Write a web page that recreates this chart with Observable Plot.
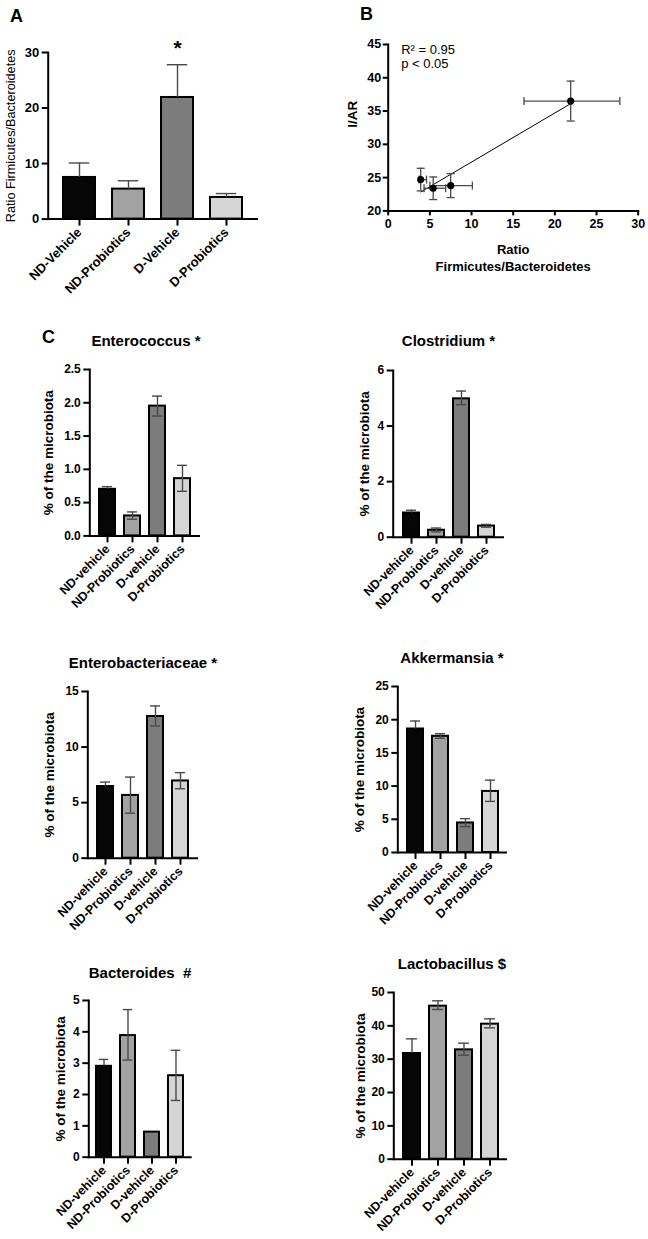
<!DOCTYPE html>
<html><head><meta charset="utf-8">
<script src="https://cdn.jsdelivr.net/npm/d3@7"></script>
<script src="https://cdn.jsdelivr.net/npm/@observablehq/plot@0.6"></script>
<style>
body{margin:0;background:#fff;}
#fig{position:relative;width:648px;height:1239px;overflow:hidden;background:#fff;font-family:"Liberation Sans",Arial,Helvetica,sans-serif;color:#000;}
.letter{position:absolute;font-weight:bold;font-size:18px;line-height:1;}
.title{position:absolute;width:300px;text-align:center;font-weight:bold;font-size:15px;line-height:1;white-space:pre;}
svg{overflow:visible;}
</style></head><body><div id="fig"></div>
<script>
// ---------- Data ----------
// Panel A: ratio Firmicutes/Bacteroidetes
const groupsA = ["ND-Vehicle", "ND-Probiotics", "D-Vehicle", "D-Probiotics"];
const ratioMean = [7.5, 5.4, 21.9, 3.9];
const ratioUpper = [10.1, 6.9, 27.8, 4.6];
const ratioLower = [5.0, 4.3, 16.3, 3.7];
const ratioTicks = [0, 10, 20, 30];
const starGroups = ["D-Vehicle"];
const starUpper = [27.8];

// Panel B: I/AR vs ratio
const iarMean = [23.8, 23.4, 36.5, 24.7];
const iarLower = [22.0, 21.7, 33.5, 23.0];
const iarUpper = [25.6, 25.1, 39.5, 26.4];
const iarTicks = [20, 25, 30, 35, 40, 45];
const ratioXTicks = [0, 5, 10, 15, 20, 25, 30];
const statsText = ["R\u00B2 = 0.95\np < 0.05"];

// Panel C
const groupsC = ["ND-vehicle", "ND-Probiotics", "D-vehicle", "D-Probiotics"];
const enteroMean = [0.70, 0.30, 1.95, 0.86];
const enteroLow = [0.70, 0.25, 1.80, 0.67];
const enteroHigh = [0.74, 0.36, 2.10, 1.06];
const enteroTicks = [0, 0.5, 1.0, 1.5, 2.0, 2.5];

const clostMean = [0.87, 0.25, 4.98, 0.40];
const clostLow = [0.87, 0.19, 4.77, 0.36];
const clostHigh = [0.97, 0.33, 5.26, 0.46];
const clostTicks = [0, 2, 4, 6];

const enterobMean = [6.45, 5.65, 12.75, 6.95];
const enterobLow = [6.45, 4.05, 11.9, 6.25];
const enterobHigh = [6.85, 7.3, 13.7, 7.7];
const enterobTicks = [0, 5, 10, 15];

const akkMean = [18.6, 17.5, 4.45, 9.2];
const akkLow = [18.6, 17.2, 3.9, 7.7];
const akkHigh = [19.8, 17.9, 5.1, 10.9];
const akkTicks = [0, 5, 10, 15, 20, 25];

const bactMean = [2.9, 3.88, 0.8, 2.6];
const bactLow = [2.9, 3.1, 0.8, 1.81];
const bactHigh = [3.12, 4.71, 0.8, 3.41];
const bactTicks = [0, 1, 2, 3, 4, 5];

const lactoMean = [31.7, 45.9, 32.8, 40.5];
const lactoLow = [31.7, 44.9, 31.2, 39.4];
const lactoHigh = [36.1, 47.5, 34.8, 42.1];
const lactoTicks = [0, 10, 20, 30, 40, 50];

const titlesC = ["Enterococcus *", "Clostridium *", "Enterobacteriaceae *", "Akkermansia *", "Bacteroides  #", "Lactobacillus $"];
const yLabelC = "% of the microbiota";
const yLabelA = "Ratio Firmicutes/Bacteroidetes";
const xLabelB = "Ratio\nFirmicutes/Bacteroidetes";
const yLabelB = "I/AR";

// ---------- Style ----------
const FONT = '"Liberation Sans", Arial, Helvetica, sans-serif';
const fills = ["#060606", "#a2a2a2", "#7c7c7c", "#d5d5d5"];
const ERR = "#4a4a4a";
const intFmt = d3.format("d");

const fig = document.getElementById("fig");
function place(node, left, top) {
  node.style.position = "absolute";
  node.style.left = left + "px";
  node.style.top = top + "px";
  fig.appendChild(node);
}
function addText(cls, text, left, top) {
  const d = document.createElement("div");
  d.className = cls;
  d.textContent = text;
  d.style.left = left + "px";
  d.style.top = top + "px";
  fig.appendChild(d);
}

function barPanel(o) {
  const ml = o.axisX - o.svgLeft, mr = 4, mt = 40, mb = 90;
  const width = ml + (o.axisEnd - o.axisX) + mr;
  const height = mt + (o.yZero - o.yTop) + mb;
  const rows = o.groups.map((g, i) => ({g, mean: o.mean[i], low: o.low[i], high: o.high[i]}));
  const withErr = rows.filter(d => d.high > d.low);
  const withLow = rows.filter(d => d.low < d.mean);
  const pi = o.pi ?? 0.36, po = o.po ?? 0.33;
  const range = o.axisEnd - o.axisX;
  const step = range / (o.groups.length - pi + 2 * po);
  const bw = step * (1 - pi);
  const cap = bw * 0.18;
  const marks = [
    Plot.barY(rows, {x: "g", y: "mean", fill: "g", stroke: "#000", strokeWidth: 2}),
    Plot.ruleX(withErr, {x: "g", y1: "low", y2: "high", stroke: ERR, strokeWidth: 1.4}),
    Plot.tickY(withErr, {x: "g", y: "high", stroke: ERR, strokeWidth: 1.4, insetLeft: cap, insetRight: cap}),
    Plot.tickY(withLow, {x: "g", y: "low", stroke: ERR, strokeWidth: 1.4, insetLeft: cap, insetRight: cap}),
    Plot.ruleY([0], {stroke: "#000", strokeWidth: 2}),
    Plot.frame({anchor: "left", stroke: "#000", strokeWidth: 2}),
    Plot.axisY({ticks: o.ticks, tickSize: 6, strokeWidth: 2, tickPadding: 3, tickFormat: o.fmt ?? intFmt, label: null, fontSize: o.tickFont, fontWeight: "bold"}),
    Plot.axisX({tickSize: 7, strokeWidth: 2, tickRotate: -45, tickPadding: 4, label: null, fontSize: o.xFont, fontWeight: "bold"}),
    Plot.text([o.ylabel], {frameAnchor: "left", rotate: -90, dx: o.labelDx, fontSize: o.labelSize, fontWeight: o.labelWeight, textAnchor: "middle", lineAnchor: "middle", fill: "#000"})
  ];
  if (o.extra) marks.push(...o.extra);
  const plot = Plot.plot({
    width, height, marginLeft: ml, marginRight: mr, marginTop: mt, marginBottom: mb,
    style: {fontFamily: FONT, fontWeight: "bold", fontSize: "12px", color: "#000", background: "transparent", overflow: "visible"},
    x: {type: "band", domain: o.groups, paddingInner: pi, paddingOuter: po, axis: null},
    y: {domain: [0, o.max], axis: null},
    color: {domain: o.groups, range: fills},
    marks
  });
  place(plot, o.svgLeft, o.yTop - mt);
}

// ---------- Panel A ----------
const starRows = starGroups.map((g, i) => ({g, y: starUpper[i]}));
barPanel({
  groups: groupsA, mean: ratioMean, low: ratioMean, high: ratioUpper, max: 30, ticks: ratioTicks,
  svgLeft: 0, axisX: 47.7, axisEnd: 258, yTop: 51.7, yZero: 218.3, pi: 0.35, po: 0.31,
  tickFont: 13, xFont: 13, ylabel: yLabelA, labelDx: -37, labelSize: 12.7, labelWeight: "normal",
  extra: [Plot.text(starRows, {x: "g", y: "y", text: () => "*", dy: -9.5, lineAnchor: "bottom", fontSize: 21, fontWeight: "bold"})]
});

// ---------- Panel B ----------
(function () {
  const svgLeft = 330, axisX = 387.7, axisEnd = 637.7, yTop = 44.3, yZero = 210.7;
  const ml = axisX - svgLeft, mr = 8, mt = 10, mb = 75;
  const width = ml + (axisEnd - axisX) + mr;
  const height = mt + (yZero - yTop) + mb;
  const pts = groupsA.map((g, i) => ({g, x: ratioMean[i], y: iarMean[i], xlo: ratioLower[i], xhi: ratioUpper[i], ylo: iarLower[i], yhi: iarUpper[i]}));
  const hbar = {draw(ctx, size) { const r = Math.sqrt(size / Math.PI); ctx.moveTo(-r, 0); ctx.lineTo(r, 0); }};
  const vbar = {draw(ctx, size) { const r = Math.sqrt(size / Math.PI); ctx.moveTo(0, -r); ctx.lineTo(0, r); }};
  const errStyle = {stroke: ERR, strokeWidth: 1.3, fill: "none"};
  const plot = Plot.plot({
    width, height, marginLeft: ml, marginRight: mr, marginTop: mt, marginBottom: mb,
    style: {fontFamily: FONT, fontWeight: "bold", fontSize: "12px", color: "#000", background: "transparent", overflow: "visible"},
    x: {domain: [0, 30], axis: null},
    y: {domain: [20, 45], axis: null},
    marks: [
      Plot.linearRegressionY(pts, {x: "x", y: "y", ci: 0, stroke: "#000", strokeWidth: 1}),
      Plot.ruleY(pts, {y: "y", x1: "xlo", x2: "xhi", ...errStyle}),
      Plot.ruleX(pts, {x: "x", y1: "ylo", y2: "yhi", ...errStyle}),
      Plot.dot(pts, {x: "x", y: "ylo", symbol: hbar, r: 4, ...errStyle}),
      Plot.dot(pts, {x: "x", y: "yhi", symbol: hbar, r: 4, ...errStyle}),
      Plot.dot(pts, {x: "xlo", y: "y", symbol: vbar, r: 4, ...errStyle}),
      Plot.dot(pts, {x: "xhi", y: "y", symbol: vbar, r: 4, ...errStyle}),
      Plot.dot(pts, {x: "x", y: "y", r: 3.6, fill: "#000", stroke: "none"}),
      Plot.frame({anchor: "left", stroke: "#000", strokeWidth: 2}),
      Plot.frame({anchor: "bottom", stroke: "#000", strokeWidth: 2}),
      Plot.axisY({ticks: iarTicks, tickSize: 5, strokeWidth: 2, tickPadding: 2, tickFormat: intFmt, label: null, fontSize: 12.5, fontWeight: "bold"}),
      Plot.axisX({ticks: ratioXTicks, tickSize: 5, strokeWidth: 2, tickPadding: 3, tickFormat: intFmt, label: null, fontSize: 12.5, fontWeight: "bold"}),
      Plot.text([xLabelB], {frameAnchor: "bottom", lineAnchor: "top", dy: 32, fontSize: 13, fontWeight: "bold", lineHeight: 1.25}),
      Plot.text([yLabelB], {frameAnchor: "left", rotate: -90, dx: -35.5, fontSize: 13.5, fontWeight: "bold", lineAnchor: "middle"}),
      Plot.text(statsText, {frameAnchor: "top-left", dx: 13, dy: 0, textAnchor: "start", lineAnchor: "top", fontWeight: "normal", fontSize: 13, lineHeight: 1.05})
    ]
  });
  place(plot, svgLeft, yTop - mt);
})();

// ---------- Panel C ----------
const common = {groups: groupsC, tickFont: 12, xFont: 12.5, labelSize: 13.5, labelWeight: "bold", ylabel: yLabelC};
barPanel({...common, mean: enteroMean, low: enteroLow, high: enteroHigh, max: 2.5, ticks: enteroTicks, fmt: d3.format(".1f"),
  svgLeft: 0, axisX: 89.3, axisEnd: 200, yTop: 369.3, yZero: 535.7, labelDx: -41});
barPanel({...common, mean: clostMean, low: clostLow, high: clostHigh, max: 6, ticks: clostTicks,
  svgLeft: 330, axisX: 392.7, axisEnd: 504, yTop: 370, yZero: 536.7, labelDx: -29});
barPanel({...common, mean: enterobMean, low: enterobLow, high: enterobHigh, max: 15, ticks: enterobTicks,
  svgLeft: 0, axisX: 87.3, axisEnd: 198, yTop: 691, yZero: 857.7, labelDx: -38});
barPanel({...common, mean: akkMean, low: akkLow, high: akkHigh, max: 25, ticks: akkTicks,
  svgLeft: 330, axisX: 397.3, axisEnd: 507, yTop: 685.7, yZero: 851.7, labelDx: -38});
barPanel({...common, mean: bactMean, low: bactLow, high: bactHigh, max: 5, ticks: bactTicks,
  svgLeft: 0, axisX: 88.3, axisEnd: 191.7, yTop: 1000, yZero: 1156.7, labelDx: -28});
barPanel({...common, mean: lactoMean, low: lactoLow, high: lactoHigh, max: 50, ticks: lactoTicks,
  svgLeft: 330, axisX: 393.3, axisEnd: 507, yTop: 992.3, yZero: 1159, labelDx: -33});

// ---------- Letters and titles ----------
addText("letter", "A", 10, 7);
addText("letter", "B", 360, 4.5);
addText("letter", "C", 42, 328);
const titleCenters = [146, 448.5, 143, 452, 140, 452];
const titleTops = [333, 333, 655, 650, 965, 956];
titlesC.forEach((t, i) => addText("title", t, titleCenters[i] - 150, titleTops[i]));
</script></body></html>
